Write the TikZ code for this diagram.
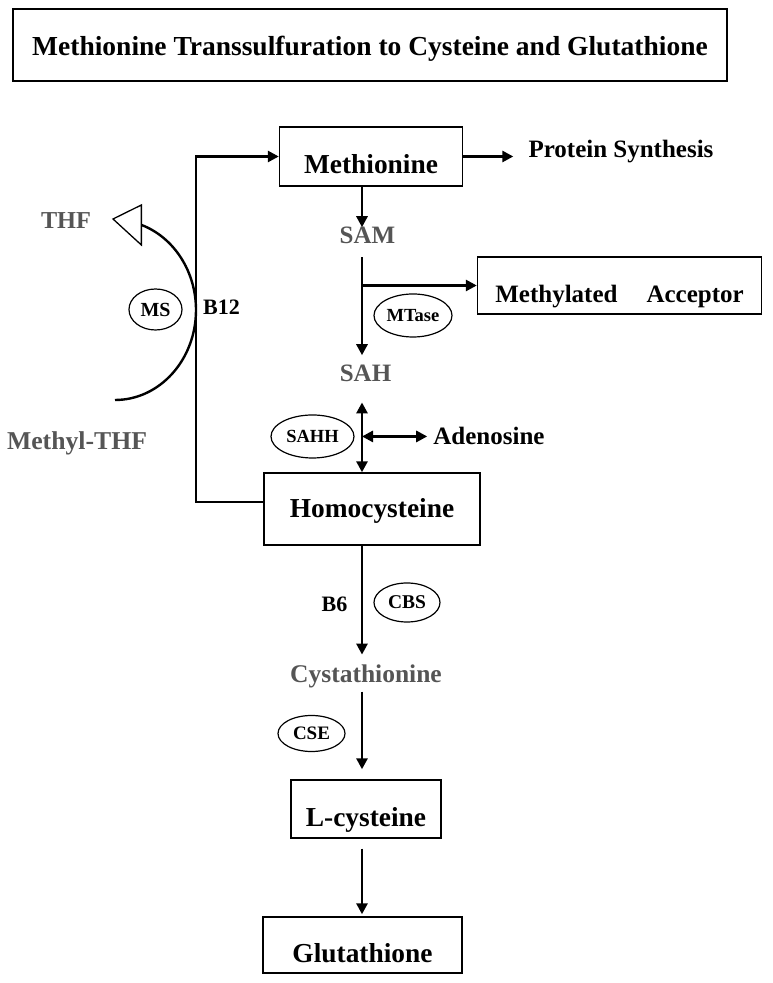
\documentclass[tikz,border=0pt]{standalone}
\usepackage{fontspec}
\setmainfont{Liberation Serif}
\usetikzlibrary{arrows.meta,shapes.geometric}
\definecolor{metgrey}{RGB}{85,85,85}
\newcommand{\pwfont}[1]{\fontsize{#1}{#1}\selectfont\bfseries}

\begin{document}
\begin{tikzpicture}[x=1pt,y=1pt,
  box node/.style={draw,line width=1.4pt,inner xsep=0pt,inner ysep=0pt,anchor=base,font=\pwfont{27.4}},
  enzyme node/.style={ellipse,draw,line width=1.2pt,inner sep=0pt,font=\pwfont{18.5}},
  met node/.style={text=metgrey,inner sep=0pt,anchor=base,font=\pwfont{25}},
  side node/.style={inner sep=0pt,anchor=base,font=\pwfont{25}},
  flow/.style={line width=2.7pt,-{Triangle[length=11pt,width=11pt]}},
  both flow/.style={line width=2.7pt,{Triangle[length=11pt,width=11pt]}-{Triangle[length=11pt,width=11pt]}}]
  \useasboundingbox (0,0) rectangle (773,983);

  % title
  \node[box node, line width=2.6pt, text height=47pt, text depth=25pt, minimum width=714pt, font=\pwfont{27.5}] (title) at (370,927) {Methionine Transsulfuration to Cysteine and Glutathione};

  % main column
  \node[box node, text height=47pt, text depth=12pt, minimum width=183pt] (met) at (371,809) {Methionine};
  \node[side node] (prot) at (621,825) {Protein Synthesis};
  \node[met node] (sam) at (367.5,739) {SAM};
  \node[box node, text height=46pt, text depth=11pt, minimum width=284pt, font=\pwfont{25}] (acc) at (619.5,680) {Methylated\hspace{29pt}Acceptor};
  \node[enzyme node, minimum width=78pt, minimum height=43pt] (mtase) at (413,667.5) {MTase};
  \node[met node] (sah) at (365.5,601) {SAH};
  \node[enzyme node, minimum width=83pt, minimum height=43pt] (sahh) at (312.5,546.5) {SAHH};
  \node[side node] (ado) at (489,538) {Adenosine};
  \node[box node, text height=45pt, text depth=27pt, minimum width=216pt] (homo) at (372,465) {Homocysteine};
  \node[side node, font=\pwfont{22}] (bsix) at (334.5,371) {B6};
  \node[enzyme node, minimum width=66pt, minimum height=39pt, font=\pwfont{19.5}] (cbs) at (407,380.5) {CBS};
  \node[met node, font=\pwfont{25.5}] (cys) at (366,300) {Cystathionine};
  \node[enzyme node, minimum width=67pt, minimum height=36pt, font=\pwfont{19}] (cse) at (311.5,249.5) {CSE};
  \node[box node, text height=47pt, text depth=11pt, minimum width=150pt] (lcys) at (366,156) {L-cysteine};
  \node[box node, text height=46pt, text depth=10pt, minimum width=199pt] (glut) at (362.5,20) {Glutathione};

  % folate side
  \node[met node, font=\pwfont{24.3}] (thf) at (66,754) {THF};
  \node[met node, font=\pwfont{25.7}] (mthf) at (77,533) {Methyl-THF};
  \node[enzyme node, minimum width=53pt, minimum height=41pt, font=\pwfont{20}] (ms) at (155.5,673.5) {MS};
  \node[side node, font=\pwfont{22}] (btwelve) at (221.5,668) {B12};

  \coordinate (axis) at (362,0);
  \coordinate (loop) at (196,650);
  \coordinate (msin) at (115,583);

  \draw[flow] (met.south -| axis) -- (axis |- sam.north);
  \draw[flow, shorten >=15pt] (met.east) -- (met.east -| prot.west);
  \draw[flow, shorten <=13pt, shorten >=10pt] (axis |- sam.south) -- (axis |- sah.north);
  \draw[flow] (axis |- acc.west) -- (acc.west);
  \draw[both flow, shorten <=20pt] (axis |- sah.south) -- (axis |- homo.north);
  \draw[both flow, shorten >=6pt] (axis |- ado.west) -- (ado.west);
  \draw[flow, shorten >=10.5pt] (homo.south -| axis) -- (axis |- cys.north);
  \draw[flow, shorten <=3pt, shorten >=10pt] (axis |- cys.south) -- (axis |- lcys.north);
  \draw[flow, shorten <=10pt, shorten >=2pt] (lcys.south -| axis) -- (axis |- glut.north);
  \draw[flow] ([yshift=7pt]homo.west) -| (loop) |- (met.west);

  % MS reaction
  \draw[line width=2.4pt] (msin) arc[start angle=-90, end angle=71, x radius=81pt, y radius=90pt] coordinate (thfend);
  \draw[line width=1.3pt, fill=white] (thfend |- 0,778) -- (113,764) -- (thfend |- 0,738) -- cycle;
\end{tikzpicture}
\end{document}
